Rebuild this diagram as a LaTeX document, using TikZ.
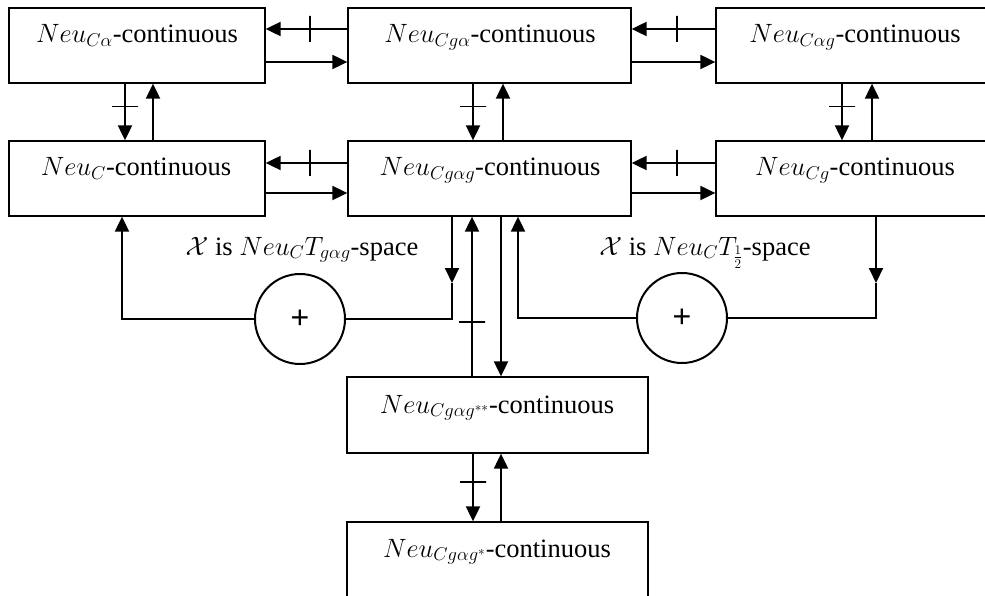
\RequirePackage{fix-cm}
\documentclass[tikz,border=0pt]{standalone}
\usepackage{fontspec}
\setmainfont{Liberation Serif}
\newfontfamily\plusfont{Liberation Sans}
\usetikzlibrary{arrows.meta}
\begin{document}
\begin{tikzpicture}[x=1pt,y=-1pt,
  box/.style={draw, line width=1.3pt, inner sep=0pt, minimum height=75pt},
  lbl/.style={font=\fontsize{26.5}{30}\selectfont, inner sep=0pt, anchor=base},
  arr/.style={line width=2pt, -{Triangle[length=15pt,width=14pt]}},
  conn/.style={line width=2pt},
  tickmark/.style={sloped, draw, line width=1.5pt, minimum width=0pt, minimum height=26pt, inner sep=0pt},
  sumnode/.style={circle, draw, line width=2pt, minimum size=90pt, inner sep=0pt, font=\plusfont\fontsize{32}{32}\selectfont}
]
\useasboundingbox (0,0) rectangle (985,596);
\clip (0,0) rectangle (985,596);

% boxes
\node[box, minimum width=256pt] (tl) at (137,45.5) {};
\node[box, minimum width=283pt] (tm) at (489.5,45.5) {};
\node[box, minimum width=279pt] (tr) at (855.5,45.5) {};
\node[box, minimum width=256pt] (ml) at (137,178.5) {};
\node[box, minimum width=283pt] (mm) at (489.5,178.5) {};
\node[box, minimum width=279pt] (mr) at (855.5,178.5) {};
\node[box, minimum width=301pt, minimum height=76pt] (b1) at (497.5,415) {};
\node[box, minimum width=301pt, minimum height=83pt] (b2) at (497.5,563.5) {};

% box labels
\node[lbl] (tlt) at (137,43) {$Neu_{C\alpha}$-continuous};
\node[lbl] (tmt) at (490,43) {$Neu_{Cg\alpha}$-continuous};
\node[lbl] (trt) at (855,43) {$Neu_{C\alpha g}$-continuous};
\node[lbl] (mlt) at (136,176) {$Neu_{C}$-continuous};
\node[lbl] (mmt) at (490,176) {$Neu_{Cg\alpha g}$-continuous};
\node[lbl] (mrt) at (855,176) {$Neu_{Cg}$-continuous};
\node[lbl] (b1t) at (497,413) {$Neu_{Cg\alpha g^{**}}$-continuous};
\node[lbl] (b2t) at (497,557) {$Neu_{Cg\alpha g^{*}}$-continuous};

% space labels
\node[lbl] (lab1) at (302,255) {$\mathcal{X}$ is $Neu_{C}T_{g\alpha g}$-space};
\node[lbl] (lab2) at (705,255) {$\mathcal{X}$ is $Neu_{C}T_{\frac{1}{2}}$-space};

% sum circles
\node[sumnode] (c1) at (300,319) {+};
\node[sumnode] (c2) at (682,318) {+};

% top row horizontal
\draw[arr] ([yshift=16.5pt]tm.west) -- node[tickmark,pos=0.46]{} ([yshift=16.5pt]tl.east);
\draw[arr] ([yshift=-16.5pt]tl.east) -- ([yshift=-16.5pt]tm.west);
\draw[arr] ([yshift=16.5pt]tr.west) -- node[tickmark,pos=0.46]{} ([yshift=16.5pt]tm.east);
\draw[arr] ([yshift=-16.5pt]tm.east) -- ([yshift=-16.5pt]tr.west);

% middle row horizontal
\draw[arr] ([yshift=15.5pt]mm.west) -- node[tickmark,pos=0.46]{} ([yshift=15.5pt]ml.east);
\draw[arr] ([yshift=-14.5pt]ml.east) -- ([yshift=-14.5pt]mm.west);
\draw[arr] ([yshift=15.5pt]mr.west) -- node[tickmark,pos=0.46]{} ([yshift=15.5pt]mm.east);
\draw[arr] ([yshift=-14.5pt]mm.east) -- ([yshift=-14.5pt]mr.west);

% verticals top-middle
\draw[arr] (125,0 |- tl.south) -- node[tickmark,pos=0.4]{} (125,0 |- ml.north);
\draw[arr] (153,0 |- ml.north) -- (153,0 |- tl.south);
\draw[arr] (473,0 |- tm.south) -- node[tickmark,pos=0.4]{} (473,0 |- mm.north);
\draw[arr] (503,0 |- mm.north) -- (503,0 |- tm.south);
\draw[arr] (842,0 |- tr.south) -- node[tickmark,pos=0.4]{} (842,0 |- mr.north);
\draw[arr] (872,0 |- mr.north) -- (872,0 |- tr.south);

% middle to bottom
\draw[arr] (472,0 |- b1.north) -- node[tickmark,pos=0.34]{} (472,0 |- mm.south);
\draw[arr] (501,0 |- mm.south) -- (501,0 |- b1.north);
\draw[arr] (473,0 |- b1.south) -- node[tickmark,pos=0.42]{} (473,0 |- b2.north);
\draw[arr] (501,0 |- b2.north) -- (501,0 |- b1.south);

% left loop
\draw[arr] (c1.west) -| (122,0 |- ml.south);
\coordinate (k1) at (452,283);
\draw[arr] (452,0 |- mm.south) -- (k1);
\draw[conn] (k1) |- (c1.east);

% right loop
\draw[arr] (c2.west) -| (518,0 |- mm.south);
\coordinate (k2) at (876,283);
\draw[arr] (876,0 |- mr.south) -- (k2);
\draw[conn] (k2) |- (c2.east);
\end{tikzpicture}
\end{document}
